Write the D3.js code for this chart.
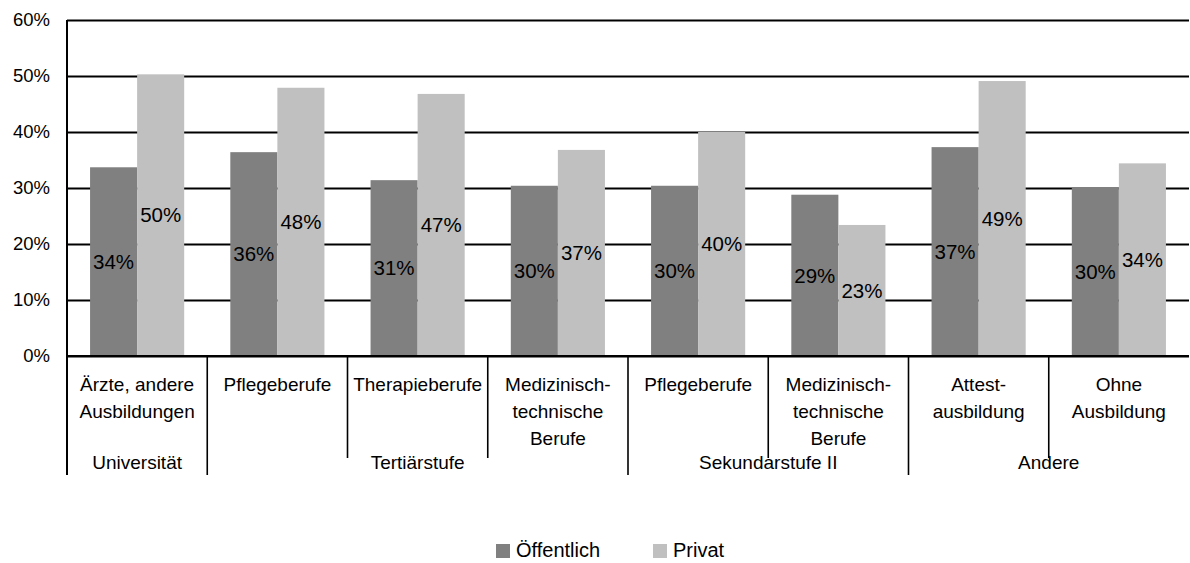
<!DOCTYPE html>
<html>
<head>
<meta charset="utf-8">
<script src="https://cdn.jsdelivr.net/npm/d3@7"></script>
<style>
  body { margin: 0; background: #fff; }
  svg { font-family: "Liberation Sans", Arial, sans-serif; }
</style>
</head>
<body>
<div id="chart"></div>
<script>
const groups = [
  { name: "Universität", size: 1 },
  { name: "Tertiärstufe", size: 3 },
  { name: "Sekundarstufe II", size: 2 },
  { name: "Andere", size: 2 }
];
const categories = [
  ["Ärzte, andere", "Ausbildungen"],
  ["Pflegeberufe"],
  ["Therapieberufe"],
  ["Medizinisch-", "technische", "Berufe"],
  ["Pflegeberufe"],
  ["Medizinisch-", "technische", "Berufe"],
  ["Attest-", "ausbildung"],
  ["Ohne", "Ausbildung"]
];
const series = ["Öffentlich", "Privat"];
const oeffentlich = [33.7, 36.4, 31.4, 30.4, 30.4, 28.8, 37.3, 30.1];
const privat = [50.3, 47.9, 46.8, 36.8, 40.0, 23.4, 49.1, 34.4];
const yTicks = [0, 10, 20, 30, 40, 50, 60];

const W = 1190, H = 563;
const margin = { top: 20, right: 1, bottom: 207, left: 67 };
const width = W - margin.left - margin.right;
const height = H - margin.top - margin.bottom;

const color = d3.scaleOrdinal().domain(series).range(["#808080", "#c0c0c0"]);

const svg = d3.select("#chart")
  .append("svg")
  .attr("width", W)
  .attr("height", H)
  .append("g")
  .attr("transform", `translate(${margin.left},${margin.top})`);

const x0 = d3.scaleBand()
  .domain(d3.range(categories.length))
  .range([0, width]);

const x1 = d3.scaleBand()
  .domain(series)
  .range([0, x0.bandwidth()])
  .paddingOuter(0.49);

const y = d3.scaleLinear()
  .domain([0, 60])
  .range([height, 0]);

// Gridlines
svg.append("g")
  .call(d3.axisLeft(y).tickValues(yTicks).tickSize(-width).tickFormat(""))
  .call(g => g.select(".domain").remove())
  .selectAll("line")
  .attr("stroke", "#000")
  .attr("stroke-width", 1.8);

// Y axis labels
svg.append("g")
  .call(d3.axisLeft(y).tickValues(yTicks).tickSize(0).tickPadding(17).tickFormat(d => d + "%"))
  .call(g => g.select(".domain").remove())
  .selectAll("text")
  .attr("font-size", "18.5px")
  .attr("fill", "#000");

// Bars
const rows = categories.map((c, i) => ({ i, values: [
  { key: "Öffentlich", value: oeffentlich[i] },
  { key: "Privat", value: privat[i] }
]}));

const grp = svg.selectAll(".grp")
  .data(rows)
  .join("g")
  .attr("class", "grp")
  .attr("transform", d => `translate(${x0(d.i)},0)`);

grp.selectAll("rect")
  .data(d => d.values)
  .join("rect")
  .attr("x", d => x1(d.key))
  .attr("y", d => y(d.value))
  .attr("width", x1.bandwidth())
  .attr("height", d => height - y(d.value))
  .attr("fill", d => color(d.key));

grp.selectAll("text.val")
  .data(d => d.values)
  .join("text")
  .attr("class", "val")
  .attr("x", d => x1(d.key) + x1.bandwidth() / 2)
  .attr("y", d => (y(d.value) + height) / 2)
  .attr("dy", "0.35em")
  .attr("text-anchor", "middle")
  .attr("font-size", "20.5px")
  .attr("fill", "#000")
  .text(d => Math.round(d.value) + "%");

// Axis lines
svg.append("line")
  .attr("x1", 0).attr("x2", width)
  .attr("y1", height).attr("y2", height)
  .attr("stroke", "#000").attr("stroke-width", 2);

svg.append("line")
  .attr("x1", 0).attr("x2", 0)
  .attr("y1", 0).attr("y2", height + 119)
  .attr("stroke", "#000").attr("stroke-width", 2);

// Category separators: long ones between groups, short ones inside
let start = 0;
const groupPos = [];
groups.forEach(g => {
  groupPos.push({ name: g.name, start, end: start + g.size });
  start += g.size;
});
const groupEnds = new Set(groupPos.map(g => g.end));

d3.range(1, categories.length).forEach(i => {
  const long = groupEnds.has(i);
  svg.append("line")
    .attr("x1", x0(i)).attr("x2", x0(i))
    .attr("y1", height)
    .attr("y2", height + (long ? 119 : 102))
    .attr("stroke", "#000").attr("stroke-width", 1.6);
});

// Category labels
const catLabels = svg.selectAll(".cat")
  .data(categories)
  .join("text")
  .attr("class", "cat")
  .attr("text-anchor", "middle")
  .attr("font-size", "19px")
  .attr("fill", "#000")
  .attr("transform", (d, i) => `translate(${x0(i) + x0.bandwidth() / 2},${height + 35})`);

catLabels.selectAll("tspan")
  .data(d => d)
  .join("tspan")
  .attr("x", 0)
  .attr("y", (d, j) => j * 27)
  .text(d => d);

svg.selectAll(".grpLabel")
  .data(groupPos)
  .join("text")
  .attr("class", "grpLabel")
  .attr("x", d => (x0(d.start) + (d.end < categories.length ? x0(d.end) : width)) / 2)
  .attr("y", height + 113)
  .attr("text-anchor", "middle")
  .attr("font-size", "19px")
  .attr("fill", "#000")
  .text(d => d.name);

// Legend (kept inside the canvas)
const legend = svg.append("g")
  .attr("transform", `translate(${496 - margin.left},${544 - margin.top})`);

const li = legend.selectAll("g")
  .data(series)
  .join("g")
  .attr("transform", (d, i) => `translate(${i * 157},0)`);

li.append("rect")
  .attr("width", 14)
  .attr("height", 14)
  .attr("fill", d => color(d));

li.append("text")
  .attr("x", 20)
  .attr("y", 13)
  .attr("font-size", "20px")
  .attr("fill", "#000")
  .text(d => d);
</script>
</body>
</html>
